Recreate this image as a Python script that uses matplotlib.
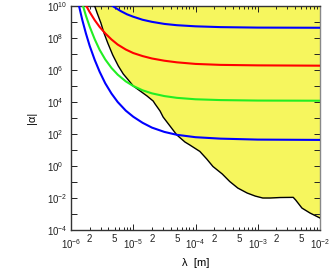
import numpy as np
import matplotlib
matplotlib.use("Agg")
import matplotlib.pyplot as plt

plt.rcParams['font.family'] = ['Liberation Sans', 'DejaVu Sans']
plt.rcParams['mathtext.fontset'] = 'custom'
plt.rcParams['mathtext.rm'] = 'Liberation Sans'
plt.rcParams['mathtext.it'] = 'Liberation Sans:italic'
plt.rcParams['mathtext.bf'] = 'Liberation Sans:bold'

# ---- data (log10 values) ----
# experimental exclusion boundary (black) : log10(lambda [m]), log10(|alpha|)
bound_loglam = [-5.62, -5.58, -5.52, -5.47, -5.41, -5.33, -5.24, -5.16, -5.08, -5.00,
                -4.89, -4.78, -4.68, -4.65, -4.57, -4.52, -4.41, -4.30, -4.17, -4.09,
                -3.93, -3.82, -3.72, -3.57, -3.45, -3.32, -3.17, -3.04, -2.92, -2.80,
                -2.64, -2.43, -2.39, -2.29, -2.16, -2.00]
bound_logalpha = [10.0, 9.56, 8.94, 8.31, 7.69, 6.94, 6.25, 5.75, 5.38, 5.00,
                  4.69, 4.38, 4.06, 3.88, 3.44, 3.06, 2.50, 1.94, 1.50, 1.31,
                  0.91, 0.44, -0.03, -0.50, -0.97, -1.38, -1.69, -1.88, -2.00, -2.00,
                  -1.97, -1.96, -2.13, -2.63, -2.94, -3.25]

# blue (upper)
blue_hi_loglam = [-5.33, -5.28, -5.20, -5.10, -5.00, -4.85, -4.70, -4.50, -4.30, -4.00,
                  -3.60, -3.00, -2.00]
blue_hi_logalpha = [10.0, 9.87, 9.68, 9.48, 9.33, 9.14, 9.01, 8.88, 8.80, 8.73,
                    8.68, 8.65, 8.64]

# red
red_loglam = [-5.754, -5.70, -5.62, -5.54, -5.45, -5.35, -5.25, -5.12, -5.00, -4.85,
              -4.70, -4.50, -4.30, -4.00, -3.60, -3.00, -2.00]
red_logalpha = [10.0, 9.62, 9.12, 8.69, 8.29, 7.91, 7.59, 7.28, 7.06, 6.87,
                6.72, 6.58, 6.48, 6.38, 6.32, 6.29, 6.27]

# green
green_loglam = [-5.807, -5.76, -5.70, -5.62, -5.54, -5.45, -5.35, -5.25, -5.12, -5.00,
                -4.85, -4.70, -4.50, -4.30, -4.00, -3.60, -3.00, -2.00]
green_logalpha = [10.0, 9.39, 8.71, 7.93, 7.26, 6.66, 6.13, 5.71, 5.29, 5.00,
                  4.73, 4.54, 4.37, 4.26, 4.17, 4.12, 4.09, 4.08]

# blue (lower)
blue_lo_loglam = [-5.871, -5.82, -5.76, -5.70, -5.62, -5.54, -5.45, -5.35, -5.25, -5.12,
                  -5.00, -4.85, -4.70, -4.50, -4.30, -4.00, -3.60, -3.00, -2.00]
blue_lo_logalpha = [10.0, 9.15, 8.28, 7.51, 6.64, 5.89, 5.17, 4.53, 4.00, 3.46,
                    3.08, 2.70, 2.40, 2.13, 1.95, 1.80, 1.71, 1.65, 1.63]

x_major = [-6, -5, -4, -3, -2]
y_major = [-4, -2, 0, 2, 4, 6, 8, 10]
y_minor = [-3, -1, 1, 3, 5, 7, 9]

def p10(a):
    return 10.0 ** np.asarray(a, dtype=float)

fig = plt.figure(figsize=(3.32, 2.74), dpi=100)
ax = fig.add_axes([71/332, 1-230/274, 249/332, 224/274])
ax.set_xscale('log')
ax.set_yscale('log')
ax.set_xlim(1e-6, 1e-2)
ax.set_ylim(1e-4, 1e10)

yellow = '#f6f65e'
ax.fill_between(p10(bound_loglam), p10(bound_logalpha), 1e10, color=yellow, lw=0, zorder=1)
ax.plot(p10(bound_loglam), p10(bound_logalpha), color='black', lw=1.0, zorder=3)

lw = 1.5
ax.plot(p10(blue_hi_loglam), p10(blue_hi_logalpha), color='#0000ff', lw=lw, zorder=4)
ax.plot(p10(red_loglam), p10(red_logalpha), color='#ff0000', lw=lw, zorder=4)
ax.plot(p10(green_loglam), p10(green_logalpha), color='#22ee22', lw=lw, zorder=4)
ax.plot(p10(blue_lo_loglam), p10(blue_lo_logalpha), color='#0000ff', lw=lw, zorder=4)

fs = 7
# y ticks
ax.set_yticks(p10(y_major), labels=[r'$10^{%d}$' % v for v in y_major], ha='left', fontsize=fs)
ax.set_yticks(p10(y_minor), labels=[''] * len(y_minor), minor=True)
ax.tick_params(axis='y', which='both', direction='in', length=4.5, width=0.7,
               left=True, right=True, pad=17.3, colors='#222222')

# x ticks
ax.set_xticks(p10(x_major), labels=[r'$10^{%d}$' % v for v in x_major], fontsize=fs)
xm, xl = [], []
for d in x_major[:-1]:
    for m in range(2, 10):
        xm.append(m * 10.0 ** d)
        xl.append(str(m) if m in (2, 5) else '')
ax.set_xticks(xm, labels=xl, minor=True, fontsize=fs)
ax.tick_params(axis='x', which='major', direction='in', length=4.3, width=0.7,
               top=True, bottom=True, pad=5.0, colors='#222222')
ax.tick_params(axis='x', which='minor', direction='in', length=2.2, width=0.7,
               top=True, bottom=True, pad=2.8, colors='#222222')

for s in ['left', 'bottom', 'top']:
    ax.spines[s].set_color('#333333')
    ax.spines[s].set_linewidth(1.0)
ax.spines['right'].set_color('#888888')
ax.spines['right'].set_linewidth(1.0)

ax.set_xlabel('λ  [m]', fontsize=8)
ax.xaxis.set_label_coords(0.5, -0.125)
ax.set_ylabel('|α|', fontsize=8)
ax.yaxis.set_label_coords(-0.135, 0.5)

fig.savefig('out.png', dpi=100)
